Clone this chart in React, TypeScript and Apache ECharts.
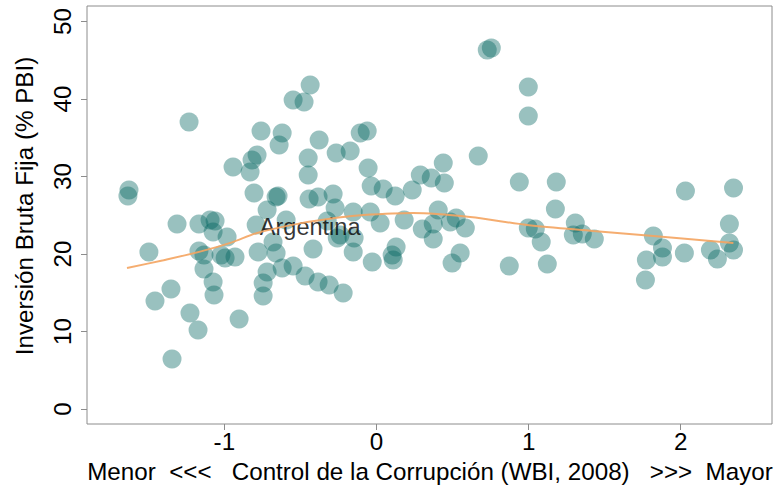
import React, { useEffect, useRef } from "react";
import * as echarts from "echarts";

// Control de la Corrupción (WBI, 2008)
const controlCorrupcion = [
  -1.627, -1.634, -1.496, -1.456, -1.351, -1.344, -1.226, -1.173, -1.232, -1.311,
  -1.167, -1.094, -1.061, -1.074, -0.982, -1.167, -1.134, -1.134, -1.074, -1.068,
  -1.022, -0.995, -0.93, -0.903, -0.943, -0.831, -0.818, -0.785, -0.759, -0.805,
  -0.66, -0.647, -0.719, -0.62, -0.64, -0.791, -0.778, -0.68, -0.66, -0.719,
  -0.745, -0.745, -0.62, -0.594, -0.548, -0.476, -0.436, -0.377, -0.449, -0.449,
  -0.265, -0.173, -0.107, -0.061, -0.055, -0.035, 0.044, 0.123, 0.235, 0.288,
  0.36, 0.446, 0.439, -0.443, -0.384, -0.285, -0.272, -0.324, -0.153, -0.041,
  0.024, 0.182, 0.406, 0.373, 0.301, 0.485, 0.524, 0.584, -0.417, -0.153,
  -0.258, -0.239, -0.147, -0.028, 0.129, 0.103, 0.11, -0.548, -0.469, -0.384,
  -0.311, -0.219, 0.373, 0.55, 0.497, 0.669, 0.728, 0.755, 0.998, 0.998,
  0.939, 1.182, 1.176, 0.998, 1.044, 1.083, 1.307, 1.294, 1.353, 1.432,
  0.873, 1.123, 2.031, 2.347, 2.32, 1.82, 1.88, 1.88, 1.774, 1.768,
  2.024, 2.195, 2.241, 2.32, 2.347,
];

// Inversión Bruta Fija (% PBI)
const inversion = [
  28.26, 27.48, 20.26, 13.94, 15.48, 6.45, 12.39, 10.19, 37.03, 23.87,
  23.87, 24.39, 24.26, 22.84, 22.19, 20.39, 19.87, 18.06, 16.39, 14.71,
  19.87, 19.48, 19.61, 11.61, 31.23, 30.58, 32.13, 32.77, 35.87, 27.87,
  27.35, 27.48, 25.68, 35.61, 34.06, 23.74, 20.26, 21.55, 20.13, 17.68,
  16.26, 14.58, 18.19, 24.39, 39.87, 39.61, 41.81, 34.71, 32.39, 30.19,
  33.03, 33.29, 35.61, 35.87, 31.1, 28.77, 28.39, 27.48, 28.26, 30.19,
  29.81, 29.16, 31.74, 27.1, 27.35, 27.74, 25.94, 24.26, 25.42, 25.42,
  24.0, 24.39, 25.68, 23.87, 23.23, 24.13, 24.65, 23.35, 20.65, 20.26,
  22.06, 22.45, 22.06, 18.97, 20.9, 19.87, 19.23, 18.45, 17.16, 16.39,
  16.0, 14.97, 21.94, 20.13, 18.84, 32.65, 46.32, 46.58, 41.55, 37.81,
  29.29, 29.29, 25.81, 23.35, 23.23, 21.55, 24.0, 22.45, 22.58, 21.94,
  18.45, 18.71, 28.13, 28.52, 23.87, 22.32, 20.77, 19.61, 19.23, 16.65,
  20.13, 20.52, 19.35, 21.42, 20.52,
];

// Curva suavizada (loess)
const loessX = [-1.64, -1.4, -1.16, -0.95, -0.785, -0.502, -0.25, -0.0875, 0.241, 0.616, 0.991, 1.425, 1.82, 2.346];
const loessY = [18.19, 19.2, 20.3, 21.5, 22.71, 23.95, 24.7, 25.03, 25.29, 24.77, 23.74, 22.97, 22.32, 21.42];

const xTicks = [-1, 0, 1, 2];
const yTicks = [0, 10, 20, 30, 40, 50];

const argentinaLabel = "Argentina";
const argentinaX = -0.436;
const argentinaY = 23.5;

const xTitle = "Menor \u00A0<<< \u00A0\u00A0Control de la Corrupción (WBI, 2008) \u00A0\u00A0>>> \u00A0Mayor";
const yTitle = "Inversión Bruta Fija (% PBI)";

const FONT = "'Liberation Sans', Arial, Helvetica, sans-serif";
const FS = 24.2;

export default function App() {
  const ref = useRef<HTMLDivElement>(null);
  useEffect(() => {
    const chart = echarts.init(ref.current!, null, { renderer: "svg" });
    const points = controlCorrupcion.map((x, i) => [x, inversion[i]]);
    const loess = loessX.map((x, i) => [x, loessY[i]]);
    chart.setOption({
      animation: false,
      backgroundColor: "#ffffff",
      grid: {
        left: 87,
        top: 6,
        right: 2,
        bottom: 64,
        show: true,
        borderColor: "#8c8c8c",
        borderWidth: 1,
        backgroundColor: "transparent",
      },
      xAxis: {
        type: "value",
        min: -1.903,
        max: 2.6,
        position: "bottom",
        splitLine: { show: false },
        axisLine: { show: false, onZero: false },
        axisTick: { show: true, length: 6, lineStyle: { color: "#8c8c8c" }, customValues: xTicks },
        axisLabel: {
          customValues: xTicks,
          fontSize: FS,
          fontFamily: FONT,
          color: "#000",
          margin: 5,
        },
      },
      yAxis: {
        type: "value",
        min: -1.94,
        max: 52,
        position: "left",
        splitLine: { show: false },
        axisLine: { show: false, onZero: false },
        axisTick: { show: true, length: 6, lineStyle: { color: "#8c8c8c" }, customValues: yTicks },
        axisLabel: {
          customValues: yTicks,
          fontSize: FS,
          fontFamily: FONT,
          color: "#000",
          rotate: 90,
          margin: 13,
        },
      },
      graphic: [
        {
          type: "text",
          x: 430,
          y: 471,
          style: {
            text: xTitle,
            font: `${FS}px ${FONT}`,
            fill: "#000",
            align: "center",
            verticalAlign: "middle",
          },
        },
        {
          type: "text",
          x: 24,
          y: 206,
          rotation: Math.PI / 2,
          style: {
            text: yTitle,
            font: `${FS}px ${FONT}`,
            fill: "#000",
            align: "center",
            verticalAlign: "middle",
          },
        },
      ],
      series: [
        {
          type: "scatter",
          data: points,
          symbol: "circle",
          symbolSize: 19,
          itemStyle: { color: "rgba(0,100,95,0.5)" },
          silent: true,
        },
        {
          type: "line",
          data: loess,
          smooth: 0.3,
          symbol: "none",
          lineStyle: { color: "rgba(244,164,96,0.9)", width: 2 },
          silent: true,
        },
        {
          type: "scatter",
          data: [[argentinaX, argentinaY]],
          symbolSize: 0,
          silent: true,
          label: {
            show: true,
            position: "inside",
            formatter: argentinaLabel,
            fontSize: 23.5,
            fontFamily: FONT,
            color: "#000",
          },
        },
      ],
    });
    return () => chart.dispose();
  }, []);
  return (
    <div
      ref={ref}
      style={{ position: "fixed", left: 0, top: 0, width: 774, height: 488 }}
    />
  );
}
